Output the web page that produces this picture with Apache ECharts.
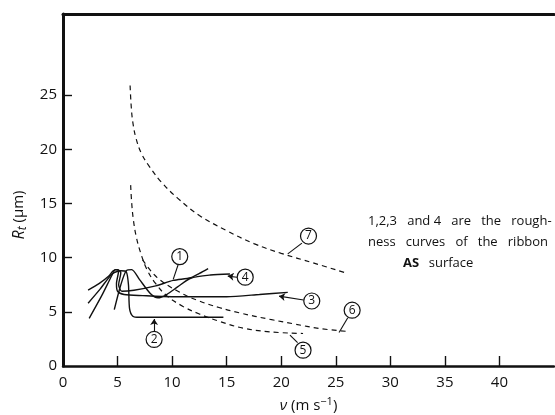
<!DOCTYPE html>
<html><head><meta charset="utf-8">
<script src="https://cdn.jsdelivr.net/npm/echarts@6/dist/echarts.min.js"></script>
<style>html,body{margin:0;padding:0;background:#fff}#c{width:555px;height:415px}</style>
</head><body><div id="c"></div>
<script>
// ---- data (x: v in m/s, y: Rt in µm) ----
var xTicks = [5, 10, 15, 20, 25, 30, 35, 40];
var xLabels = [0, 5, 10, 15, 20, 25, 30, 35, 40];
var yTicks = [5, 10, 15, 20, 25];
var yLabels = [0, 5, 10, 15, 20, 25];

var curve1 = [[2.3,7.0],[3.3,7.6],[4.2,8.3],[4.6,8.8],[5.0,8.9],[5.3,8.6],[5.1,7.5],[5.4,6.9],[6.5,7.0],[8.5,7.4],[10.1,7.9],[11.7,8.15],[12.5,8.55],[13.3,9.0]];
var curve2 = [[2.3,5.8],[3.4,7.1],[4.5,8.5],[5.3,8.8],[5.8,8.7],[6.0,7.5],[6.1,5.3],[6.4,4.6],[7.0,4.5],[10,4.5],[14.7,4.5]];
var curve3 = [[2.4,4.4],[3.5,6.4],[4.5,8.4],[4.8,8.9],[5.1,8.8],[4.9,7.6],[5.0,6.9],[5.6,6.6],[7.3,6.5],[10,6.4],[15,6.4],[18,6.6],[20.6,6.8]];
var curve4 = [[4.7,5.2],[5.3,7.5],[5.8,8.8],[6.3,8.9],[7.0,8.0],[8.0,6.7],[8.7,6.3],[9.5,6.6],[10.5,7.3],[11.7,8.1],[13.5,8.4],[15.3,8.5]];
var curve5 = [[6.2,16.7],[6.3,15.0],[6.45,13.5],[6.7,12.0],[7.1,10.5],[7.7,8.9],[8.5,7.6],[9.5,6.5],[11,5.5],[12.5,4.8],[14.4,4.1],[16.5,3.5],[19,3.15],[22,3.0]];
var curve6 = [[7.3,9.8],[8.6,8.2],[10.7,6.8],[12.5,6.0],[14.3,5.4],[16.2,4.9],[19,4.3],[21.1,3.9],[23.6,3.45],[26,3.2]];
var curve7 = [[6.15,25.9],[6.25,24.0],[6.4,22.5],[6.7,21.0],[7.2,19.6],[8.0,18.3],[9.0,17.0],[10.5,15.5],[12.5,13.9],[15.0,12.5],[17.5,11.3],[20.0,10.4],[23.0,9.5],[25.9,8.6]];

// circled labels: [x, y, text]
var circleLabels = [[10.7,10.1,'1'],[8.35,2.45,'2'],[22.8,6.0,'3'],[16.7,8.2,'4'],[22.0,1.46,'5'],[26.5,5.15,'6'],[22.5,12.0,'7']];
// leader lines: [from, to]
var leaders = [[[10.55,9.35],[10.1,8.0]],[[21.5,2.15],[20.8,2.85]],[[26.1,4.45],[25.3,3.1]],[[21.9,11.35],[20.6,10.35]]];
var arrows = [[[8.35,3.2],[8.35,4.35]],[[22.05,6.1],[19.8,6.45]],[[15.95,8.2],[15.1,8.3]]];

var note1 = '1,2,3   and 4   are   the   rough-';
var note2 = 'ness   curves   of   the   ribbon';
var note3b = 'AS';
var note3 = '  surface';

var FONT = 'Open Sans';
var INK = '#111';

function solid(d){return {type:'line',data:d,symbol:'none',smooth:0.25,lineStyle:{color:INK,width:1.4},z:3};}
function dashed(d){return {type:'line',data:d,symbol:'none',smooth:0.4,lineStyle:{color:INK,width:1.2,type:[5,4]},z:3};}

var chart = echarts.init(document.getElementById('c'));
chart.setOption({
  animation:false,
  backgroundColor:'#fff',
  grid:{left:63,right:1,top:14,bottom:49,containLabel:false,outerBoundsMode:'none'},
  xAxis:[{
    type:'value',min:0,max:45,interval:5,
    axisLine:{show:true,lineStyle:{color:INK,width:2.5}},
    axisTick:{show:true,inside:true,length:10,customValues:xTicks,lineStyle:{color:INK,width:1.4}},
    axisLabel:{customValues:xLabels,color:INK,fontSize:15,fontFamily:FONT,margin:9},
    splitLine:{show:false},
    name:'{i|ν} (m s{sup|−1})',nameLocation:'middle',nameGap:30,
    nameTextStyle:{color:INK,fontSize:15,fontFamily:FONT,rich:{
      i:{fontStyle:'italic',fontSize:15,fontFamily:FONT,color:INK},
      sup:{fontSize:11,fontFamily:FONT,color:INK,verticalAlign:'top',padding:[0,0,8,0]}}}
  },{
    type:'value',position:'top',min:0,max:45,
    axisLine:{show:true,onZero:false,lineStyle:{color:INK,width:3}},
    axisTick:{show:false},axisLabel:{show:false},splitLine:{show:false}
  }],
  yAxis:{
    type:'value',min:0,max:32.5,interval:5,
    axisLine:{show:true,lineStyle:{color:INK,width:3}},
    axisTick:{show:true,inside:true,length:9,customValues:yTicks,lineStyle:{color:INK,width:1.4}},
    axisLabel:{customValues:yLabels,color:INK,fontSize:15,fontFamily:FONT,margin:6},
    splitLine:{show:false},
    name:'{i|R}{sub|t} (μm)',nameLocation:'middle',nameGap:26,nameRotate:90,
    nameTextStyle:{color:INK,fontSize:15,fontFamily:FONT,padding:[0,50,0,0],rich:{
      i:{fontStyle:'italic',fontSize:16,fontFamily:FONT,color:INK},
      sub:{fontStyle:'italic',fontSize:12,fontFamily:FONT,color:INK,padding:[8,0,0,0]}}}
  },
  graphic:[{
    type:'group',left:368,top:215,children:[
      {type:'text',x:0,y:0,style:{text:note1,font:'13px "Open Sans"',fill:INK}},
      {type:'text',x:0,y:21,style:{text:note2,font:'13px "Open Sans"',fill:INK}},
      {type:'text',x:35,y:42,style:{text:note3b,font:'bold 13px "Open Sans"',fill:INK}},
      {type:'text',x:54,y:42,style:{text:note3,font:'13px "Open Sans"',fill:INK}}
    ]}],
  series:[
    solid(curve1),solid(curve2),solid(curve3),solid(curve4),
    dashed(curve5),dashed(curve6),dashed(curve7),
    {type:'lines',coordinateSystem:'cartesian2d',symbol:['none','none'],
     lineStyle:{color:INK,width:1.1,opacity:1},z:4,
     data:leaders.map(function(p){return {coords:p};})},
    {type:'lines',coordinateSystem:'cartesian2d',symbol:['none','arrow'],symbolSize:6,
     lineStyle:{color:INK,width:1.1,opacity:1},z:4,
     data:arrows.map(function(p){return {coords:p};})},
    {type:'scatter',data:circleLabels.map(function(c){return [c[0],c[1],c[2]];}),
     symbol:'circle',symbolSize:16,z:5,
     itemStyle:{color:'#fff',borderColor:INK,borderWidth:1.2,opacity:1},
     label:{show:true,position:'inside',formatter:function(p){return p.value[2];},
       color:INK,fontSize:12,fontFamily:FONT}}
  ]
});
</script></body></html>
